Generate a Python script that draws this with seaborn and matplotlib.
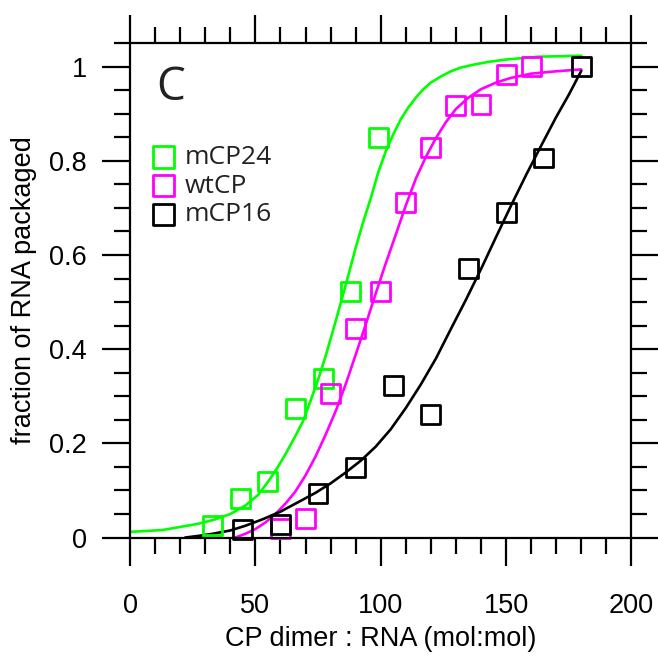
import matplotlib
matplotlib.use("Agg")
import matplotlib.pyplot as plt
import seaborn as sns
from matplotlib.ticker import MultipleLocator

# ---- data ----
series_names = ["mCP24", "wtCP", "mCP16"]
series_colors = ["#00ff00", "#ff00ff", "#000000"]

green_x = [33, 44, 55, 66, 77, 88, 99]
green_y = [0.025, 0.082, 0.119, 0.274, 0.337, 0.522, 0.850]

magenta_x = [60, 70, 80, 90, 100, 110, 120, 130, 140, 150, 160]
magenta_y = [0.019, 0.041, 0.306, 0.443, 0.522, 0.712, 0.829, 0.917, 0.920, 0.984, 1.001]

black_x = [45, 60, 75, 90, 105, 120, 135, 150, 165, 180]
black_y = [0.018, 0.027, 0.094, 0.149, 0.323, 0.262, 0.571, 0.691, 0.806, 1.001]

# fitted curves
green_fit_x = [0, 13, 27, 33, 40, 46, 51, 55, 59, 62, 66, 69, 72, 75, 78, 81, 84, 87, 90,
               93, 96, 99, 102, 105, 108, 111, 114, 117, 120, 124, 128, 132, 137, 143, 150,
               163, 180]
green_fit_y = [0.012, 0.016, 0.029, 0.037, 0.050, 0.068, 0.090, 0.118, 0.150, 0.177, 0.216,
               0.247, 0.290, 0.335, 0.385, 0.440, 0.497, 0.555, 0.615, 0.670, 0.720, 0.775,
               0.820, 0.856, 0.888, 0.913, 0.934, 0.952, 0.966, 0.979, 0.990, 0.998, 1.004,
               1.010, 1.015, 1.021, 1.023]

magenta_fit_x = [42, 46, 50, 54, 58, 62, 66, 70, 74, 78, 82, 86, 90, 94, 98, 102, 106, 110,
                 114, 118, 122, 126, 130, 135, 140, 146, 152, 160, 170, 180]
magenta_fit_y = [0.0, 0.008, 0.018, 0.032, 0.050, 0.072, 0.098, 0.132, 0.172, 0.218, 0.268,
                 0.325, 0.388, 0.452, 0.518, 0.582, 0.643, 0.705, 0.762, 0.808, 0.848, 0.882,
                 0.910, 0.934, 0.952, 0.966, 0.976, 0.985, 0.990, 0.994]

black_fit_x = [22, 28, 33, 40, 46, 53, 60, 66, 74, 80, 86, 92, 98, 104, 110, 116, 122, 128,
               134, 140, 146, 152, 158, 164, 170, 175, 180]
black_fit_y = [0.0, 0.004, 0.008, 0.015, 0.025, 0.039, 0.055, 0.072, 0.095, 0.115, 0.138,
               0.163, 0.193, 0.230, 0.275, 0.325, 0.380, 0.443, 0.505, 0.570, 0.638, 0.705,
               0.770, 0.832, 0.893, 0.940, 0.991]

x_ticks = [0, 50, 100, 150, 200]
y_ticks = [0, 0.2, 0.4, 0.6, 0.8, 1.0]
y_tick_labels = ["0", "0.2", "0.4", "0.6", "0.8", "1"]

# ---- figure ----
sns.set_theme(style="white")
plt.rcParams["font.family"] = ["Liberation Sans", "DejaVu Sans"]

fig = plt.figure(figsize=(6.58, 6.62), dpi=100)
ax = fig.add_axes([0.1976, 0.188, 0.762, 0.747])

pts = [(green_x, green_y), (magenta_x, magenta_y), (black_x, black_y)]
fits = [(green_fit_x, green_fit_y), (magenta_fit_x, magenta_fit_y), (black_fit_x, black_fit_y)]

for (fx, fy), col in zip(fits, series_colors):
    sns.lineplot(x=fx, y=fy, color=col, linewidth=1.9, estimator=None, sort=False,
                 ax=ax, legend=False, zorder=2)

for (px, py), col, name in zip(pts, series_colors, series_names):
    sns.scatterplot(x=px, y=py, marker="s", s=185, facecolor="none", edgecolor=col,
                    color=col, linewidth=2.0, ax=ax, label=name, clip_on=False, zorder=2.3)

ax.set_xlim(0, 200)
ax.set_ylim(0, 1.05)
ax.set_xticks(x_ticks)
ax.set_yticks(y_ticks)
ax.set_yticklabels(y_tick_labels)
ax.xaxis.set_minor_locator(MultipleLocator(10))
ax.yaxis.set_minor_locator(MultipleLocator(0.05))

for sp in ax.spines.values():
    sp.set_visible(True)
    sp.set_linewidth(1.6)
    sp.set_color("black")
    sp.set_zorder(3)

ax.tick_params(which="both", direction="out", top=True, right=True, bottom=True, left=True,
               width=1.6, color="black")
ax.tick_params(which="major", length=20)
ax.tick_params(which="minor", length=11.5)
ax.tick_params(axis="x", which="major", labelsize=19.5, pad=20, labelcolor="black")
ax.tick_params(axis="y", which="major", labelsize=19.5, pad=11, labelcolor="black")

ax.set_xlabel("CP dimer : RNA (mol:mol)", fontsize=19.5, labelpad=5, color="black")
ax.set_ylabel("fraction of RNA packaged", fontsize=19.5, labelpad=9, color="black")

ax.text(0.081, 0.91, "C", transform=ax.transAxes, ha="center", va="center",
        fontsize=33, family=["Open Sans", "DejaVu Sans"], color="#222222")

leg = ax.legend(loc="upper left", bbox_to_anchor=(0.038, 0.794), frameon=False,
                prop={"family": ["Open Sans", "DejaVu Sans"], "size": 19},
                handletextpad=0.25, labelspacing=0.14, borderpad=0, handlelength=1.1,
                borderaxespad=0, markerscale=1.12)
for t in leg.get_texts():
    t.set_color("#222222")

fig.savefig("out.png", dpi=100)
